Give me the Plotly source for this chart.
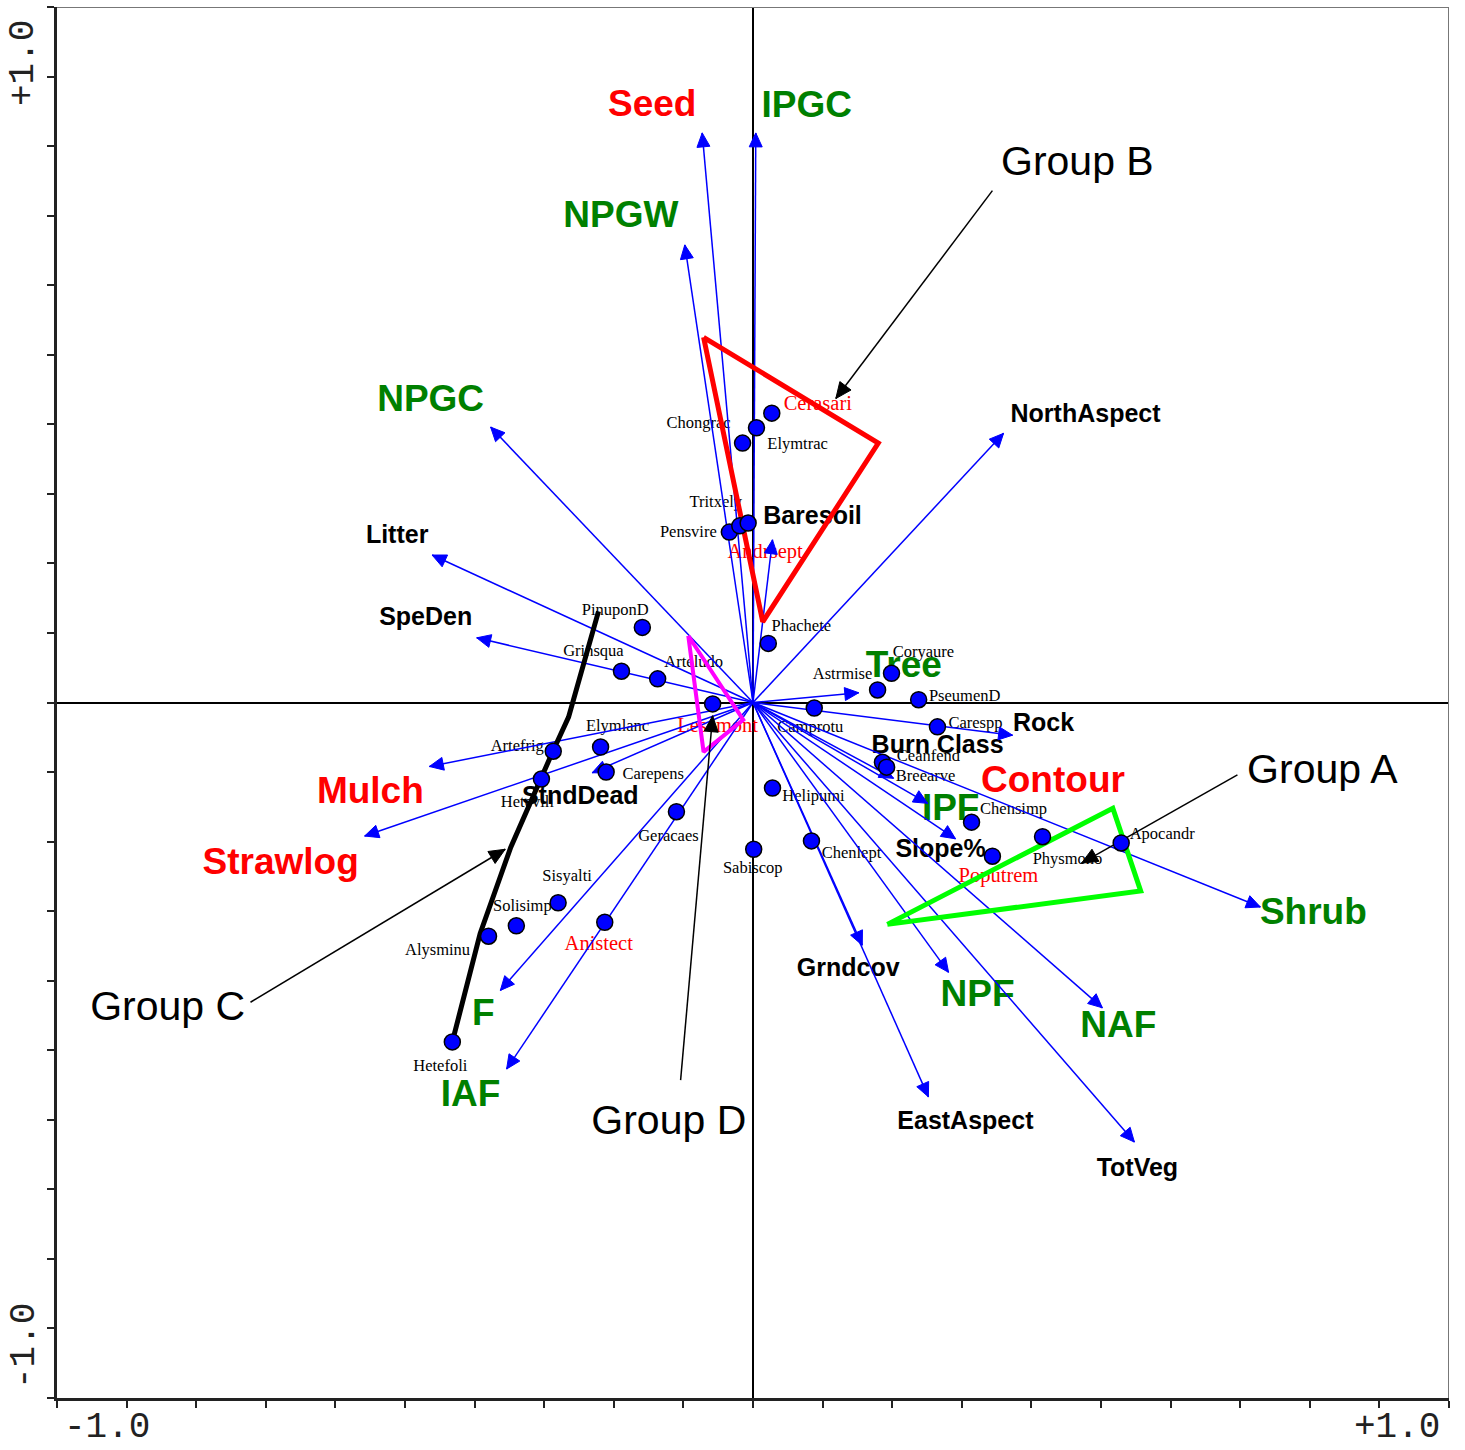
import math
import plotly.graph_objects as go

# ---------------------------------------------------------------------------
# Species scores on ordination axes 1 and 2
# ---------------------------------------------------------------------------
species = ["Cerasari", "Chongrac", "Elymtrac", "Pensvire", "Tritxely", "Andrsept",
           "PinuponD", "Grinsqua", "Arteludo", "Lesemont", "Phachete", "Astrmise",
           "Coryaure", "PseumenD", "Camprotu", "Carespp", "Ceanfend", "Breearve",
           "Helipumi", "Sabiscop", "Chenlept", "Geracaes", "Carepens", "Elymlanc",
           "Artefrig", "Hetevill", "Sisyalti", "Solisimp", "Alysminu", "Anistect",
           "Hetefoli", "Chensimp", "Poputrem", "Physmono", "Apocandr"]
species_ax1 = [0.027, 0.005, -0.015, -0.034, -0.019, -0.007,
               -0.159, -0.189, -0.137, -0.058, 0.022, 0.179,
               0.199, 0.238, 0.088, 0.265, 0.186, 0.192,
               0.028, 0.001, 0.084, -0.110, -0.211, -0.219,
               -0.287, -0.304, -0.280, -0.340, -0.380, -0.213,
               -0.432, 0.314, 0.344, 0.416, 0.529]
species_ax2 = [0.416, 0.395, 0.373, 0.245, 0.254, 0.258,
               0.108, 0.045, 0.034, -0.002, 0.085, 0.018,
               0.042, 0.004, -0.008, -0.035, -0.086, -0.093,
               -0.123, -0.211, -0.199, -0.157, -0.100, -0.064,
               -0.070, -0.110, -0.288, -0.321, -0.336, -0.316,
               -0.488, -0.172, -0.221, -0.193, -0.202]
# species whose names are printed in red
red_species = ["Cerasari", "Andrsept", "Lesemont", "Anistect", "Poputrem"]

# ---------------------------------------------------------------------------
# Joint-plot vectors (treatments, functional-group cover, site variables)
# ---------------------------------------------------------------------------
variables = ["Seed", "IPGC", "NPGW", "NPGC", "NorthAspect", "Litter", "SpeDen",
             "Mulch", "Strawlog", "StndDead", "F", "IAF", "Grndcov", "EastAspect",
             "NPF", "NAF", "TotVeg", "Shrub", "Rock", "Tree", "Burn Class", "IPF",
             "Slope%", "Baresoil"]
variable_ax1 = [-0.073, 0.004, -0.098, -0.377, 0.360, -0.461, -0.397,
                -0.465, -0.558, -0.231, -0.363, -0.354, 0.157, 0.252,
                0.281, 0.502, 0.548, 0.729, 0.373, 0.152, 0.202, 0.251,
                0.291, 0.028]
variable_ax2 = [0.819, 0.819, 0.658, 0.396, 0.387, 0.212, 0.093,
                -0.092, -0.192, -0.101, -0.414, -0.527, -0.349, -0.567,
                -0.388, -0.439, -0.632, -0.294, -0.047, 0.014, -0.109, -0.145,
                -0.196, 0.234]
variable_kind = ["treatment", "cover", "cover", "cover", "site", "site", "site",
                 "treatment", "treatment", "site", "cover", "cover", "site", "site",
                 "cover", "cover", "site", "cover", "site", "cover", "site", "cover",
                 "site", "site"]
# treatment with no vector drawn
unplotted_treatments = ["Contour"]

# ---------------------------------------------------------------------------
# Group outlines (axis 1, axis 2)
# ---------------------------------------------------------------------------
group_a_ax1 = [0.193, 0.517, 0.557, 0.193]
group_a_ax2 = [-0.319, -0.152, -0.271, -0.319]
group_b_ax1 = [-0.071, 0.180, 0.014, -0.071]
group_b_ax2 = [0.525, 0.373, 0.116, 0.525]
group_c_ax1 = [-0.222, -0.265, -0.287, -0.348, -0.392, -0.432]
group_c_ax2 = [0.131, -0.021, -0.069, -0.208, -0.332, -0.488]
group_d_ax1 = [-0.093, -0.014, -0.071, -0.093]
group_d_ax2 = [0.096, -0.025, -0.071, 0.096]

# ---------------------------------------------------------------------------
# Layout helpers
# ---------------------------------------------------------------------------
W, H = 1465, 1450
M_L, M_R, M_T, M_B = 57, 16, 7, 52
PLOT_W = W - M_L - M_R
PLOT_H = H - M_T - M_B
U = 2.0 / PLOT_W          # data units per screen pixel

BLUE = "#0000FF"
GREEN = "#008000"
RED = "#FF0000"
BLACK = "#000000"
KIND_COLOR = {"treatment": RED, "cover": GREEN, "site": BLACK}
KIND_SIZE = {"treatment": 37, "cover": 37, "site": 25}

# label centre offsets from the point / arrow tip, in screen pixels (dx right, dy down)
species_label_offset = {
    "Cerasari": (46, -8), "Chongrac": (-58, -4), "Elymtrac": (55, 2),
    "Pensvire": (-41, 1), "Tritxely": (-24, -23), "Andrsept": (17, 30),
    "PinuponD": (-27, -17), "Grinsqua": (-28, -19), "Arteludo": (36, -16),
    "Lesemont": (5, 23), "Phachete": (33, -17), "Astrmise": (-35, -15),
    "Coryaure": (32, -20), "PseumenD": (46, -3), "Camprotu": (-4, 20),
    "Carespp": (38, -3), "Ceanfend": (46, -5), "Breearve": (39, 10),
    "Helipumi": (41, 9), "Sabiscop": (-1, 20), "Chenlept": (40, 13),
    "Geracaes": (-8, 25), "Carepens": (47, 3), "Elymlanc": (17, -20),
    "Artefrig": (-36, -4), "Hetevill": (-14, 24), "Sisyalti": (9, -26),
    "Solisimp": (6, -19), "Alysminu": (-51, 15), "Anistect": (-6, 23),
    "Hetefoli": (-12, 25), "Chensimp": (42, -12), "Poputrem": (6, 21),
    "Physmono": (25, 23), "Apocandr": (41, -8),
}
variable_label_offset = {
    "Seed": (-50, -26), "IPGC": (51, -25), "NPGW": (-64, -27), "NPGC": (-60, -25),
    "NorthAspect": (82, -18), "Litter": (-35, -18), "SpeDen": (-51, -19),
    "Mulch": (-59, 27), "Strawlog": (-84, 29), "StndDead": (-12, 25),
    "F": (-17, 25), "IAF": (-36, 28), "Grndcov": (-14, 25), "EastAspect": (37, 26),
    "NPF": (29, 24), "NAF": (16, 20), "TotVeg": (3, 28), "Shrub": (53, 8),
    "Rock": (31, -10), "Tree": (45, -25), "Burn Class": (44, -32),
    "IPF": (23, 7), "Slope%": (-15, 12), "Baresoil": (40, -22),
}
free_label_pos = {"Contour": (0.431, -0.115)}

# group name placement and leader arrows: label centre, leader start, leader tip
group_labels = {
    "Group A": ((0.818, -0.101), (0.696, -0.104), (0.472, -0.231)),
    "Group B": ((0.466, 0.773), (0.344, 0.736), (0.119, 0.437)),
    "Group C": ((-0.841, -0.442), (-0.722, -0.431), (-0.356, -0.211)),
    "Group D": ((-0.121, -0.605), (-0.104, -0.543), (-0.058, -0.019)),
}


def shifted(x, y, d):
    return x + d[0] * U, y - d[1] * U


def arrow_head(x0, y0, x1, y1, length, half):
    """Triangle with its point at (x1, y1), aligned with the segment from (x0, y0)."""
    dx, dy = x1 - x0, y1 - y0
    n = math.hypot(dx, dy)
    ux, uy = dx / n, dy / n
    px, py = -uy, ux
    bx, by = x1 - ux * length * U, y1 - uy * length * U
    xs = [x1, bx + px * half * U, bx - px * half * U, x1, None]
    ys = [y1, by + py * half * U, by - py * half * U, y1, None]
    return xs, ys


fig = go.Figure()

# ---- species names --------------------------------------------------------
for is_red in (False, True):
    lx, ly, lt = [], [], []
    for name, x, y in zip(species, species_ax1, species_ax2):
        if (name in red_species) != is_red:
            continue
        tx, ty = shifted(x, y, species_label_offset[name])
        lx.append(tx)
        ly.append(ty)
        lt.append(name)
    fig.add_trace(go.Scatter(
        x=lx, y=ly, text=lt, mode="text", textposition="middle center",
        textfont=dict(family="Liberation Serif, Times New Roman, serif",
                      size=20.5 if is_red else 16.5,
                      color=RED if is_red else BLACK),
        hoverinfo="skip", showlegend=False, cliponaxis=False))

# ---- vector names ---------------------------------------------------------
for kind in ("treatment", "cover", "site"):
    lx, ly, lt = [], [], []
    for name, x, y, k in zip(variables, variable_ax1, variable_ax2, variable_kind):
        if k != kind:
            continue
        tx, ty = shifted(x, y, variable_label_offset[name])
        lx.append(tx)
        ly.append(ty)
        lt.append(name)
    if kind == "treatment":
        for name in unplotted_treatments:
            tx, ty = free_label_pos[name]
            lx.append(tx)
            ly.append(ty)
            lt.append(name)
    fig.add_trace(go.Scatter(
        x=lx, y=ly, text=lt, mode="text", textposition="middle center",
        textfont=dict(family="Liberation Sans, Arial, sans-serif",
                      size=KIND_SIZE[kind], color=KIND_COLOR[kind], weight="bold"),
        hoverinfo="skip", showlegend=False, cliponaxis=False))

# ---- group names ----------------------------------------------------------
fig.add_trace(go.Scatter(
    x=[v[0][0] for v in group_labels.values()],
    y=[v[0][1] for v in group_labels.values()],
    text=list(group_labels.keys()), mode="text", textposition="middle center",
    textfont=dict(family="Liberation Sans, Arial, sans-serif", size=41, color=BLACK),
    hoverinfo="skip", showlegend=False, cliponaxis=False))

# ---- vectors from the origin ----------------------------------------------
vx, vy, hx, hy = [], [], [], []
for x, y in zip(variable_ax1, variable_ax2):
    vx += [0, x, None]
    vy += [0, y, None]
    ax_, ay_ = arrow_head(0, 0, x, y, 14, 6.5)
    hx += ax_
    hy += ay_
fig.add_trace(go.Scatter(x=vx, y=vy, mode="lines", line=dict(color=BLUE, width=1.5),
                         hoverinfo="skip", showlegend=False))
fig.add_trace(go.Scatter(x=hx, y=hy, mode="lines", fill="toself", fillcolor=BLUE,
                         line=dict(color=BLUE, width=1), hoverinfo="skip", showlegend=False))

# ---- group outlines -------------------------------------------------------
outlines = [
    (group_b_ax1, group_b_ax2, RED, 5),
    (group_d_ax1, group_d_ax2, "#FF00FF", 4),
    (group_a_ax1, group_a_ax2, "#00FF00", 5),
    (group_c_ax1, group_c_ax2, BLACK, 5),
]
for gx, gy, col, wid in outlines:
    fig.add_trace(go.Scatter(x=gx, y=gy, mode="lines",
                             line=dict(color=col, width=wid),
                             hoverinfo="skip", showlegend=False))

# ---- group leader arrows --------------------------------------------------
lx, ly, hx, hy = [], [], [], []
for _, (x0, y0), (x1, y1) in group_labels.values():
    lx += [x0, x1, None]
    ly += [y0, y1, None]
    ax_, ay_ = arrow_head(x0, y0, x1, y1, 16, 7)
    hx += ax_
    hy += ay_
fig.add_trace(go.Scatter(x=lx, y=ly, mode="lines", line=dict(color=BLACK, width=1.5),
                         hoverinfo="skip", showlegend=False))
fig.add_trace(go.Scatter(x=hx, y=hy, mode="lines", fill="toself", fillcolor=BLACK,
                         line=dict(color=BLACK, width=1), hoverinfo="skip", showlegend=False))

# ---- species points -------------------------------------------------------
fig.add_trace(go.Scatter(
    x=species_ax1, y=species_ax2, mode="markers",
    marker=dict(size=16, color=BLUE, line=dict(color=BLACK, width=1.5)),
    text=species, hoverinfo="text", showlegend=False))

# ---- axes -----------------------------------------------------------------
ticks = [round(-1 + 0.1 * i, 1) for i in range(21)]
axis_common = dict(
    range=[-1, 1], showgrid=False, zeroline=True, zerolinecolor=BLACK, zerolinewidth=1.5,
    showline=True, linecolor="#222222", linewidth=2.5, mirror=False,
    tickvals=ticks, ticks="outside", ticklen=7, tickwidth=1.5, tickcolor="#222222",
    showticklabels=False, fixedrange=True,
)
fig.update_xaxes(**axis_common)
fig.update_yaxes(**axis_common)

# top and right frame
fig.add_shape(type="line", xref="x", yref="y", x0=-1, y0=1, x1=1, y1=1,
              line=dict(color="#777777", width=2))
fig.add_shape(type="line", xref="x", yref="y", x0=1, y0=-1, x1=1, y1=1,
              line=dict(color="#777777", width=2))


def paper_x(px):
    return (px - M_L) / PLOT_W


def paper_y(py):
    return (H - M_B - py) / PLOT_H


axis_font = dict(family="Liberation Mono, Courier New, monospace", size=36, color="#222222")
end_labels = [
    ("+1.0", 24, 63, -90), ("-1.0", 24, 1346, -90),
    ("-1.0", 107, 1427, 0), ("+1.0", 1397, 1427, 0),
]
for txt, px, py, ang in end_labels:
    fig.add_annotation(text=txt, x=paper_x(px), y=paper_y(py), xref="paper", yref="paper",
                       showarrow=False, textangle=ang, font=axis_font,
                       xanchor="center", yanchor="middle")

fig.update_layout(
    width=W, height=H,
    margin=dict(l=M_L, r=M_R, t=M_T, b=M_B),
    paper_bgcolor="white", plot_bgcolor="white",
    showlegend=False, hovermode="closest",
)

fig.write_html("out.html")
